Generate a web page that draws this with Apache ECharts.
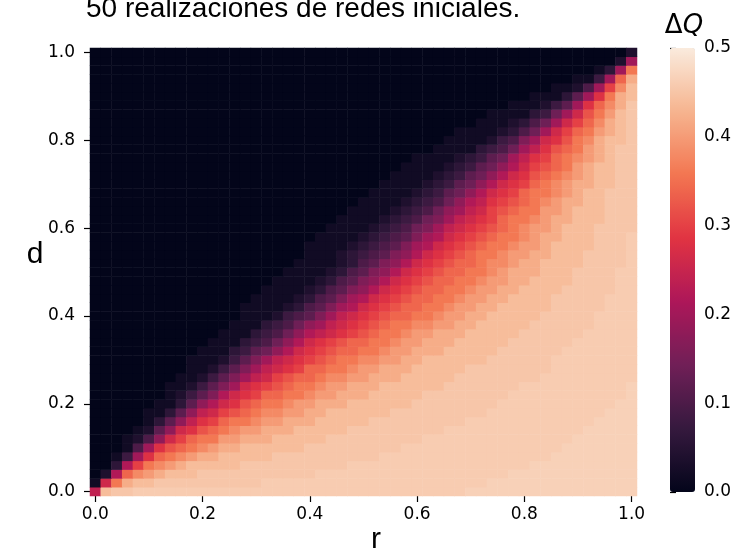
<!DOCTYPE html>
<html>
<head>
<meta charset="utf-8">
<title>Delta Q heatmap</title>
<script src="https://cdn.jsdelivr.net/npm/echarts/dist/echarts.min.js"></script>
<style>
  html, body { margin: 0; padding: 0; background: #ffffff; }
  #chart { width: 752px; height: 560px; }
</style>
</head>
<body>
<div id="chart"></div>
<script>
// ---- data ----
const rValues = ['0.00','0.02','0.04','0.06','0.08','0.10','0.12','0.14','0.16','0.18','0.20','0.22','0.24','0.26','0.28','0.30','0.32','0.34','0.36','0.38','0.40','0.42','0.44','0.46','0.48','0.50','0.52','0.54','0.56','0.58','0.60','0.62','0.64','0.66','0.68','0.70','0.72','0.74','0.76','0.78','0.80','0.82','0.84','0.86','0.88','0.90','0.92','0.94','0.96','0.98','1.00'];
const dValues = ['0.00','0.02','0.04','0.06','0.08','0.10','0.12','0.14','0.16','0.18','0.20','0.22','0.24','0.26','0.28','0.30','0.32','0.34','0.36','0.38','0.40','0.42','0.44','0.46','0.48','0.50','0.52','0.54','0.56','0.58','0.60','0.62','0.64','0.66','0.68','0.70','0.72','0.74','0.76','0.78','0.80','0.82','0.84','0.86','0.88','0.90','0.92','0.94','0.96','0.98','1.00'];
const axisTickLabels = ['0.0','0.2','0.4','0.6','0.8','1.0'];
const colorbarTickLabels = ['0.0','0.1','0.2','0.3','0.4','0.5'];

// Level codes and the Delta Q value each code stands for
const levelCodes  = ['a','b','c','d','e','f','g','h','i','j','k','l','m','n','o','p','q','r','s','t','u','v','w','x','y','z'];
const levelValues = [0.000,0.020,0.040,0.060,0.080,0.100,0.120,0.140,0.160,0.180,0.200,0.220,0.240,0.260,0.280,0.300,0.320,0.340,0.360,0.380,0.400,0.420,0.440,0.452,0.460,0.466];

// For each row d (bottom d=0.00 to top d=1.00), left to right:
// cells of the flat dark region (code a), coded transition cells,
// then pale cells of code x, y and z.
const darkRun = [0,0,0,0,0,3,3,4,5,5,6,7,7,8,9,9,10,11,12,13,14,14,15,16,17,18,19,20,20,21,22,23,24,25,26,27,28,29,30,32,33,34,36,37,39,41,43,45,47,49,50];
const bandCodes = [
  'mw',
  'bnsvww',
  'aclrtuvwww',
  'aadlpstuvwwwww',
  'aabekorstuvvwwwww',
  'bfkoqrstuvvwwwwww',
  'bcfjnprssuuvvvwwwww',
  'bcgjnoqrstuuvvvwwwww',
  'bdgjmoprsstuuvvvwwwww',
  'bbdgjmnpqrsttuuvvwwwwww',
  'bbdgjlnoqrsstuuvvvwwwwww',
  'bcegilnoprrsstuuvvvwwwww',
  'bbcegiknopqrsstuuvvvwwwwww',
  'bbcegikmnpqrrsttuuvvvwwwww',
  'bbcegikmnoprrsstuuvvvwwwww',
  'bbbcegikmnopqrssttuuvvwwwwww',
  'bbbdeghjlnopqrrsstuuvvvwwwww',
  'bbbdefhjlnopqrrsstuuvvvwwwww',
  'bbbdefhjlmnopqrsstuuvvvwwwww',
  'bbbdefhjkmnopqrssttuuvvwwwww',
  'bbbcefgikmnopqrrsstuuvvwwwww',
  'bbbbcdfgiklnopqrrsstuuvvwwwww',
  'bbbbcdfgiklnopqrrsstuuvvwwww',
  'bbbbcdfgijlnopqrrsstuuvvwwww',
  'bbbbcdfgijlnopqrrsstuuvvwwww',
  'bbbbcdfgijlnopqrrsstuvvvwww',
  'bbbbcdfgijlnopqrrsttuvvwwww',
  'bbbcdefgijlnopqrsstuuvvwww',
  'bbbbcdefgiklnopqrsstuuvwwww',
  'bbbbcdefgiklnopqrsstuvvwww',
  'bbbbcdefhikmnopqrstuuvwww',
  'bbbbcdefhikmnoprsstuvvwww',
  'bbbbcdefhjkmnpqrssuuvwww',
  'bbbbcdefhjlmopqrstuvvww',
  'bbbbcdeghjlnoprsstuvww',
  'bbbbcdeghjlnoprstuvvww',
  'bbbbcdeghjlnoqrstuvww',
  'bbbbcdeghjlnpqrsuvww',
  'bbbbcdeghkmoprstuvw',
  'bbbbdefhkmoqrsuvw',
  'bbbbcefiknoqstvww',
  'bbbbcdfhknprsuvwx',
  'bbbcdfhknprtvwx',
  'bbbbdehknqsuwx',
  'bbbcegkortvx',
  'bbbdgkosvw',
  'bbcfkptw',
  'bbekrv',
  'bdks',
  'ck',
  'c'
];
// pale runs per row: [cells of x, cells of y, cells of z]
const paleRuns = [
  [2,31,16],[10,21,14],[11,18,12],[10,17,10],[10,16,8],[9,15,7],[9,14,6],[9,13,5],[9,12,4],[9,11,3],
  [8,11,2],[8,11,1],[7,10,1],[8,9,0],[8,8,0],[6,8,0],[6,7,0],[6,6,0],[6,5,0],[6,4,0],
  [5,4,0],[5,3,0],[5,3,0],[5,2,0],[4,2,0],[4,2,0],[4,1,0],[4,1,0],[3,1,0],[3,1,0],
  [4,0,0],[3,0,0],[3,0,0],[3,0,0],[3,0,0],[2,0,0],[2,0,0],[2,0,0],[2,0,0],[2,0,0],
  [1,0,0],[0,0,0],[0,0,0],[0,0,0],[0,0,0],[0,0,0],[0,0,0],[0,0,0],[0,0,0],[0,0,0],
  [0,0,0]
];

// rocket colour map (seaborn)
const rocketColors = ['#03051a','#35193e','#701f57','#ad1759','#e13342','#f37651','#f6b48f','#faebdd'];

// ---- build heatmap table ----
function codeValue(ch) { return levelValues[levelCodes.indexOf(ch)]; }
const heatData = [];
for (let j = 0; j < dValues.length; j++) {
  const codes = [];
  for (let k = 0; k < darkRun[j]; k++) codes.push('a');
  for (const ch of bandCodes[j]) codes.push(ch);
  ['x', 'y', 'z'].forEach(function (ch, n) {
    for (let k = 0; k < paleRuns[j][n]; k++) codes.push(ch);
  });
  if (codes.length !== rValues.length) console.error('row ' + j + ' has ' + codes.length + ' cells');
  codes.forEach(function (ch, i) { heatData.push([i, j, codeValue(ch)]); });
}

const tickFont = { color: '#000', fontFamily: 'DejaVu Sans', fontSize: 17 };
const tickLine = { color: '#000', width: 1.2 };

const chart = echarts.init(document.getElementById('chart'), null, { renderer: 'canvas' });
chart.setOption({
  animation: false,
  backgroundColor: '#ffffff',
  grid: [
    { left: 90, top: 48, width: 547, height: 448 },
    { left: 670, top: 48, width: 25, height: 444 }
  ],
  xAxis: [
    {
      type: 'category', gridIndex: 0, data: rValues, position: 'bottom',
      axisLine: { show: false },
      axisTick: { show: true, alignWithLabel: true, interval: 9, length: 6, lineStyle: tickLine },
      axisLabel: Object.assign({ interval: 9, margin: 10,
        formatter: function (v, idx) { return axisTickLabels[Math.round(idx / 10)]; } }, tickFont),
      splitLine: { show: false }, splitArea: { show: false }
    },
    { type: 'value', gridIndex: 1, min: 0, max: 1, show: false }
  ],
  yAxis: [
    {
      type: 'category', gridIndex: 0, data: dValues, position: 'left',
      axisLine: { show: false },
      axisTick: { show: true, alignWithLabel: true, interval: 9, length: 6, lineStyle: tickLine },
      axisLabel: Object.assign({ interval: 9, margin: 15,
        formatter: function (v, idx) { return axisTickLabels[Math.round(idx / 10)]; } }, tickFont),
      splitLine: { show: false }, splitArea: { show: false }
    },
    {
      type: 'value', gridIndex: 1, min: 0, max: 0.5, interval: 0.1, position: 'right',
      axisLine: { show: false },
      axisTick: { show: true, length: 6, lineStyle: tickLine },
      axisLabel: Object.assign({ margin: 9,
        formatter: function (v) { return colorbarTickLabels[Math.round(v * 10)]; } }, tickFont),
      splitLine: { show: false }
    }
  ],
  visualMap: {
    type: 'continuous', min: 0, max: 0.5, seriesIndex: 0,
    calculable: false, hoverLink: false, orient: 'vertical',
    left: 670, top: 48, itemWidth: 25, itemHeight: 444, padding: 0,
    inRange: { color: rocketColors }
  },
  series: [{
    type: 'heatmap', xAxisIndex: 0, yAxisIndex: 0, data: heatData,
    progressive: 0, itemStyle: { borderWidth: 0 },
    emphasis: { disabled: true }
  }],
  graphic: [
    { type: 'text', x: 86, y: 9, style: { text: '50 realizaciones de redes iniciales.', font: '28px "Liberation Sans"', fill: '#000', align: 'left', verticalAlign: 'middle', textAlign: 'left', textVerticalAlign: 'middle' } },
    { type: 'text', x: 35, y: 255, style: { text: 'd', font: '30px "Liberation Sans"', fill: '#000', align: 'center', verticalAlign: 'middle', textAlign: 'center', textVerticalAlign: 'middle' } },
    { type: 'text', x: 376, y: 540, style: { text: 'r', font: '30px "Liberation Sans"', fill: '#000', align: 'center', verticalAlign: 'middle', textAlign: 'center', textVerticalAlign: 'middle' } },
    { type: 'text', x: 684, y: 26, style: { text: 'Δ{q|Q}', font: '26px "DejaVu Sans"', fill: '#000', align: 'center', verticalAlign: 'middle', textAlign: 'center', textVerticalAlign: 'middle',
      rich: { q: { font: 'italic 26px "DejaVu Sans"', fill: '#000' } } } }
  ]
});
</script>
</body>
</html>
